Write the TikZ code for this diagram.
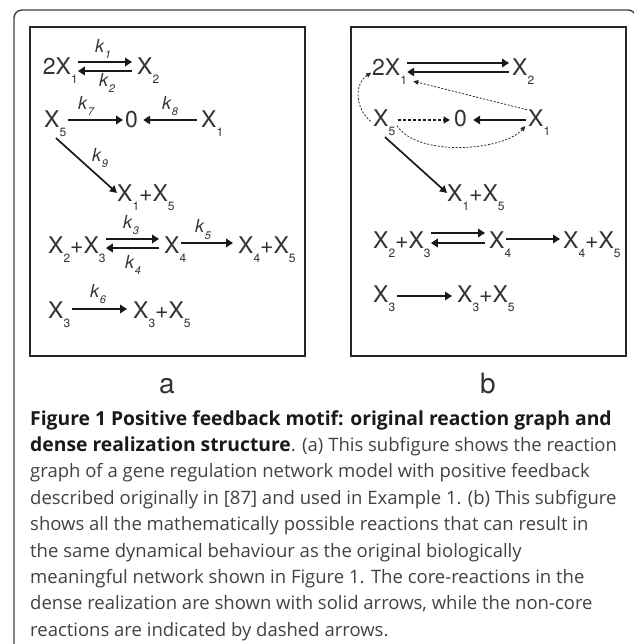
\documentclass[tikz,border=0pt]{standalone}
\usepackage{fontspec}
\setmainfont{TeX Gyre Heros}
\newfontfamily\capfont{Open Sans}
\usetikzlibrary{arrows.meta,positioning,calc}
\definecolor{inkgray}{RGB}{51,51,51}
\definecolor{capgray}{RGB}{66,66,66}
\definecolor{capblack}{RGB}{25,25,25}
\newcommand{\lowsub}[1]{\raisebox{-9pt}{\fontsize{12}{12}\selectfont #1}}
\newcommand{\ksub}[1]{\textit{k}\raisebox{-6pt}{\fontsize{11}{11}\selectfont\itshape #1}}
\newcommand{\capbold}[1]{{\color{capblack}\bfseries\fontsize{19.3}{19.3}\selectfont #1}}

\begin{document}
\begin{tikzpicture}[
  x=1pt, y=-1pt,
  species/.style={inner sep=0pt,anchor=base west,text=inkgray,
                  font=\fontsize{23}{23}\selectfont},
  rate/.style={inner sep=0pt,anchor=base west,text=inkgray,
               font=\fontsize{18}{18}\selectfont},
  rxn/.style={-{Triangle[length=7pt,width=8.5pt]},line width=2.8pt,black!90},
  diag/.style={-{Triangle[length=7pt,width=7.5pt]},line width=1.7pt,black!90},
  dotarr/.style={-{Triangle[length=5pt,width=4.5pt]},line width=0.8pt,
                 dash pattern=on 2pt off 1.6pt,black!85},
  dasharr/.style={-{Triangle[length=6.5pt,width=7pt]},line width=1.8pt,
                  dash pattern=on 3pt off 2pt,black!90},
  panel/.style={draw=black!85,line width=1.1pt},
  outer/.style={draw=black!75,line width=1.4pt,rounded corners=8pt},
  sublabel/.style={inner sep=0pt,anchor=base,text=inkgray,
                   font=\fontsize{28}{28}\selectfont},
  capline/.style={inner sep=0pt,anchor=base west,text=capgray,
                  font=\capfont\fontsize{18.5}{18.5}\selectfont},
]
  \useasboundingbox (0,0) rectangle (633,644);

  % Frames
  \draw[outer] (14,660) -- (14,10) -- (636,10) -- (636,660);
  \draw[panel] (30,27) rectangle (305,356);
  \draw[panel] (351,27) rectangle (626,356);

  % Panel a: species
  \node[species] (a2X1)  at (42.7,75) {2X\lowsub{1}};
  \node[species] (aX2)   at (137,75)  {X\lowsub{2}};
  \node[species] (aX5)   at (44,128)  {X\lowsub{5}};
  \node[species] (aZero) at (125,128) {0};
  \node[species] (aX1)   at (201,128) {X\lowsub{1}};
  \node[species] (aX1X5) at (117,202) {X\lowsub{1}+X\lowsub{5}};
  \node[species] (aX2X3) at (48,253)  {X\lowsub{2}+X\lowsub{3}};
  \node[species] (aX4)   at (164,253) {X\lowsub{4}};
  \node[species] (aX4X5) at (238,253) {X\lowsub{4}+X\lowsub{5}};
  \node[species] (aX3)   at (48,318)  {X\lowsub{3}};
  \node[species] (aX3X5) at (133,318) {X\lowsub{3}+X\lowsub{5}};

  % Panel a: rate constants
  \node[rate] (k1) at (95,53)   {\ksub{1}};
  \node[rate] (k2) at (99,87)   {\ksub{2}};
  \node[rate] (k7) at (78,110)  {\ksub{7}};
  \node[rate] (k8) at (162,110) {\ksub{8}};
  \node[rate] (k9) at (92,162)  {\ksub{9}};
  \node[rate] (k3) at (123,228) {\ksub{3}};
  \node[rate] (k4) at (125,268) {\ksub{4}};
  \node[rate] (k5) at (195,233) {\ksub{5}};
  \node[rate] (k6) at (90,297)  {\ksub{6}};

  % Panel a: reactions
  \draw[rxn,shorten >=5pt]
    ([yshift=13pt]a2X1.base east) -- ([yshift=13pt]aX2.base west);
  \draw[rxn,shorten <=5pt]
    ([yshift=4pt]aX2.base west) -- ([yshift=4pt]a2X1.base east);
  \draw[rxn,shorten <=2pt,shorten >=2pt]
    ([yshift=8pt]aX5.base east) -- ([yshift=8pt]aZero.base west);
  \draw[rxn,shorten <=4pt,shorten >=5pt]
    ([yshift=8pt]aX1.base west) -- ([yshift=8pt]aZero.base east);
  \draw[diag,shorten <=1pt]
    (aX5.south) -- ([yshift=9pt]aX1X5.base west);
  \draw[rxn,shorten >=5pt]
    ([yshift=14pt]aX2X3.base east) -- ([yshift=14pt]aX4.base west);
  \draw[rxn,shorten <=5pt]
    ([yshift=5pt]aX4.base west) -- ([yshift=5pt]aX2X3.base east);
  \draw[rxn,shorten <=-5pt,shorten >=5pt]
    ([yshift=10pt]aX4.base east) -- ([yshift=10pt]aX4X5.base west);
  \draw[rxn,shorten <=2pt,shorten >=6pt]
    ([yshift=9pt]aX3.base east) -- ([yshift=9pt]aX3X5.base west);

  % Panel b: species
  \node[species] (b2X1)  at (372,76)  {2X\lowsub{1}};
  \node[species] (bX2)   at (512,76)  {X\lowsub{2}};
  \node[species] (bX5)   at (373,127) {X\lowsub{5}};
  \node[species] (bZero) at (454,127) {0};
  \node[species] (bX1)   at (528,127) {X\lowsub{1}};
  \node[species] (bX1X5) at (447,202) {X\lowsub{1}+X\lowsub{5}};
  \node[species] (bX2X3) at (373,248) {X\lowsub{2}+X\lowsub{3}};
  \node[species] (bX4)   at (489,248) {X\lowsub{4}};
  \node[species] (bX4X5) at (563,248) {X\lowsub{4}+X\lowsub{5}};
  \node[species] (bX3)   at (373,302) {X\lowsub{3}};
  \node[species] (bX3X5) at (457,302) {X\lowsub{3}+X\lowsub{5}};

  % Panel b: core reactions
  \draw[rxn,shorten >=3pt]
    ([yshift=13pt]b2X1.base east) -- ([yshift=13pt]bX2.base west);
  \draw[rxn,shorten <=3pt]
    ([yshift=4pt]bX2.base west) -- ([yshift=4pt]b2X1.base east);
  \draw[rxn,shorten <=2pt,shorten >=6pt]
    ([yshift=7pt]bX1.base west) -- ([yshift=7pt]bZero.base east);
  \draw[diag,shorten <=1pt]
    (bX5.south) -- ([yshift=9pt]bX1X5.base west);
  \draw[rxn,shorten >=4pt]
    ([yshift=15pt]bX2X3.base east) -- ([yshift=15pt]bX4.base west);
  \draw[rxn,shorten <=4pt]
    ([yshift=5pt]bX4.base west) -- ([yshift=5pt]bX2X3.base east);
  \draw[rxn,shorten <=-5pt,shorten >=3pt]
    ([yshift=9pt]bX4.base east) -- ([yshift=9pt]bX4X5.base west);
  \draw[rxn,shorten <=2pt,shorten >=5pt]
    ([yshift=6pt]bX3.base east) -- ([yshift=6pt]bX3X5.base west);

  % Panel b: non-core reactions
  \draw[dasharr,shorten <=3pt,shorten >=4pt]
    ([yshift=7pt]bX5.base east) -- ([yshift=7pt]bZero.base west);
  \draw[dotarr,shorten <=1pt]
    (bX1.north west) -- ([xshift=6pt,yshift=4pt]b2X1.south east);
  \draw[dotarr,shorten <=3pt,shorten >=1pt]
    (bX5.west) .. controls +(-18,-15) and +(-18,12) .. (b2X1.west);
  \draw[dotarr,shorten <=3pt,shorten >=4pt]
    (bX5.east) .. controls +(22,34) and +(-25,28) .. (bX1.west);

  % Sub-figure labels
  \node[sublabel] (labA) at (167,393) {a};
  \node[sublabel] (labB) at (488,393) {b};

  % Caption
  \node[capline] (cap1) at (30,425)
    {\capbold{Figure 1 Positive feedback motif: original reaction graph and}};
  \node[capline] (cap2) at (30,451.4)
    {\capbold{dense realization structure}. (a) This subfigure shows the reaction};
  \node[capline] (cap3) at (30,477.8)
    {graph of a gene regulation network model with positive feedback};
  \node[capline] (cap4) at (30,504.2)
    {described originally in [87] and used in Example 1. (b) This subfigure};
  \node[capline] (cap5) at (30,530.6)
    {shows all the mathematically possible reactions that can result in};
  \node[capline] (cap6) at (30,557)
    {the same dynamical behaviour as the original biologically};
  \node[capline] (cap7) at (30,583.4)
    {meaningful network shown in Figure 1. The core-reactions in the};
  \node[capline] (cap8) at (30,609.8)
    {dense realization are shown with solid arrows, while the non-core};
  \node[capline] (cap9) at (30,636.2)
    {reactions are indicated by dashed arrows.};
\end{tikzpicture}
\end{document}
